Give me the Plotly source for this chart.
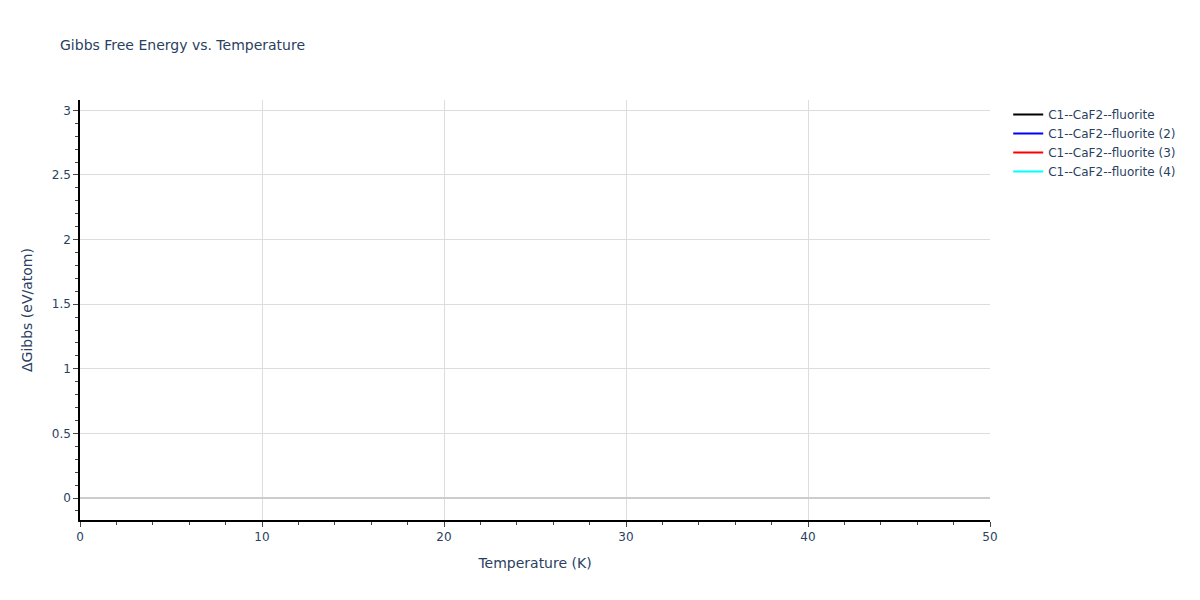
import plotly.graph_objects as go

# free energy curves, no values fall inside the plotted window
names = ["C1--CaF2--fluorite", "C1--CaF2--fluorite (2)",
         "C1--CaF2--fluorite (3)", "C1--CaF2--fluorite (4)"]
colors = ["black", "blue", "red", "cyan"]
temps = [[0, 50], [0, 50], [0, 50], [0, 50]]
dgibbs = [[None, None], [None, None], [None, None], [None, None]]

fig = go.Figure()
for n, c, t, g in zip(names, colors, temps, dgibbs):
    fig.add_trace(go.Scatter(x=t, y=g, mode="lines", name=n,
                             line=dict(color=c, width=2)))

fig.update_layout(
    template="plotly_white",
    width=1200, height=600,
    margin=dict(l=80, r=210, t=100, b=80),
    font=dict(family="Verdana, DejaVu Sans, sans-serif", size=12),
    title=dict(text="Gibbs Free Energy vs. Temperature", font=dict(size=14)),
    showlegend=True,
)
fig.update_xaxes(title=dict(text="Temperature (K)", font=dict(size=14)),
                 range=[0, 50], dtick=10, gridcolor="#ddd",
                 showline=True, linecolor="black", linewidth=1.5,
                 ticks="outside", tickcolor="#444",
                 minor=dict(ticks="outside", dtick=2, tickcolor="#444"),
                 zeroline=False)
fig.update_yaxes(title=dict(text="ΔGibbs (eV/atom)", font=dict(size=14),
                            standoff=16),
                 range=[-0.17, 3.08], dtick=0.5, gridcolor="#ddd",
                 showline=True, linecolor="black", linewidth=1.5,
                 ticks="outside", tickcolor="#444",
                 minor=dict(ticks="outside", dtick=0.1, tickcolor="#444"),
                 zeroline=True, zerolinecolor="#ccc", zerolinewidth=2)

# no page margin so the figure sits at the window corner
fig.write_html("out.html", config={"displayModeBar": False},
               post_script="document.body.style.margin='0';")
